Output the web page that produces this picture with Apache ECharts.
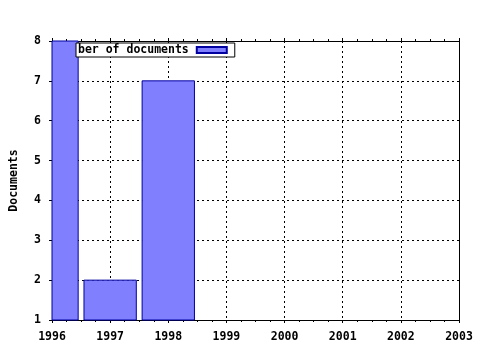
<!DOCTYPE html>
<html>
<head>
<meta charset="UTF-8">
<title>Documents</title>
<script src="https://cdn.jsdelivr.net/npm/echarts@6/dist/echarts.min.js"></script>
<style>
  html, body { margin: 0; padding: 0; background: #fff; }
  #main { width: 480px; height: 350px; }
</style>
</head>
<body>
<div id="main"></div>
<script>
var years = [1996, 1997, 1998];
var docs = [8, 2, 7];
var seriesName = 'Number of documents';
var legendText = 'ber of documents';
var barFrac = 0.9;   // bar width in years

var font = 'DejaVu Sans Mono';
var chart = echarts.init(document.getElementById('main'));

var barData = years.map(function (y, i) { return [y, docs[i]]; });

// bars from the y axis bottom (1) to the value, clipped to the plot area
function renderBar(params, api) {
    var x = api.value(0), v = api.value(1);
    var p0 = api.coord([x - barFrac / 2, v]);
    var p1 = api.coord([x + barFrac / 2, 1]);
    var rect = echarts.graphic.clipRectByRect({
        x: p0[0], y: p0[1], width: p1[0] - p0[0], height: p1[1] - p0[1]
    }, params.coordSys);
    if (!rect) return;
    return {
        type: 'rect',
        shape: rect,
        style: { fill: '#8080ff', stroke: '#0000a0', lineWidth: 1 }
    };
}

var tickStyle = { color: '#000' };
var labelFont = { fontFamily: font, fontWeight: 'bold', fontSize: 11.5, color: '#000' };

var option = {
    backgroundColor: '#fff',
    animation: false,
    grid: { left: 50, right: 21, top: 41, bottom: 30 },
    legend: {
        left: 76, top: 43,
        align: 'right',
        icon: 'rect',
        itemWidth: 30, itemHeight: 6,
        padding: [1, 7, 1, 2],
        backgroundColor: '#fff',
        borderColor: '#000', borderWidth: 1, borderRadius: 0,
        formatter: function () { return '{a|' + legendText + '}'; },
        textStyle: {
            fontFamily: font, fontWeight: 'bold', fontSize: 11.5, color: '#000',
            rich: { a: { fontFamily: font, fontWeight: 'bold', fontSize: 11.5, color: '#000', padding: [0, 3, 0, 0] } }
        },
        data: [seriesName]
    },
    xAxis: [{
        type: 'value', min: 1996, max: 2003, interval: 1,
        axisLine: { lineStyle: tickStyle },
        axisTick: { show: true, length: 3, lineStyle: tickStyle },
        minorTick: { show: true, splitNumber: 4, length: 2, lineStyle: tickStyle },
        axisLabel: Object.assign({ margin: 11, formatter: function (v) { return String(v); } }, labelFont),
        splitLine: { show: true, lineStyle: { color: '#000', type: [2, 3], width: 1 } }
    }, {
        type: 'value', min: 1996, max: 2003, interval: 1, position: 'top',
        axisLine: { show: true, lineStyle: tickStyle },
        axisTick: { show: true, length: 3, lineStyle: tickStyle },
        minorTick: { show: true, splitNumber: 4, length: 2, lineStyle: tickStyle },
        axisLabel: { show: false },
        splitLine: { show: false }
    }],
    yAxis: [{
        type: 'value', min: 1, max: 8, interval: 1,
        name: 'Documents', nameLocation: 'middle', nameRotate: 90, nameGap: 32,
        nameTextStyle: labelFont,
        axisLine: { show: true, lineStyle: tickStyle },
        axisTick: { show: true, length: 3, lineStyle: tickStyle },
        axisLabel: Object.assign({ margin: 11 }, labelFont),
        splitLine: { show: true, lineStyle: { color: '#000', type: [2, 3], width: 1 } }
    }, {
        type: 'value', min: 1, max: 8, interval: 1, position: 'right',
        axisLine: { show: true, lineStyle: tickStyle },
        axisTick: { show: false },
        axisLabel: { show: false },
        splitLine: { show: false }
    }],
    series: [{
        name: seriesName,
        type: 'custom',
        xAxisIndex: 0, yAxisIndex: 0,
        renderItem: renderBar,
        itemStyle: { color: '#8080ff', borderColor: '#0000a0', borderWidth: 1 },
        encode: { x: 0, y: 1 },
        data: barData
    }]
};
chart.setOption(option);
</script>
</body>
</html>
